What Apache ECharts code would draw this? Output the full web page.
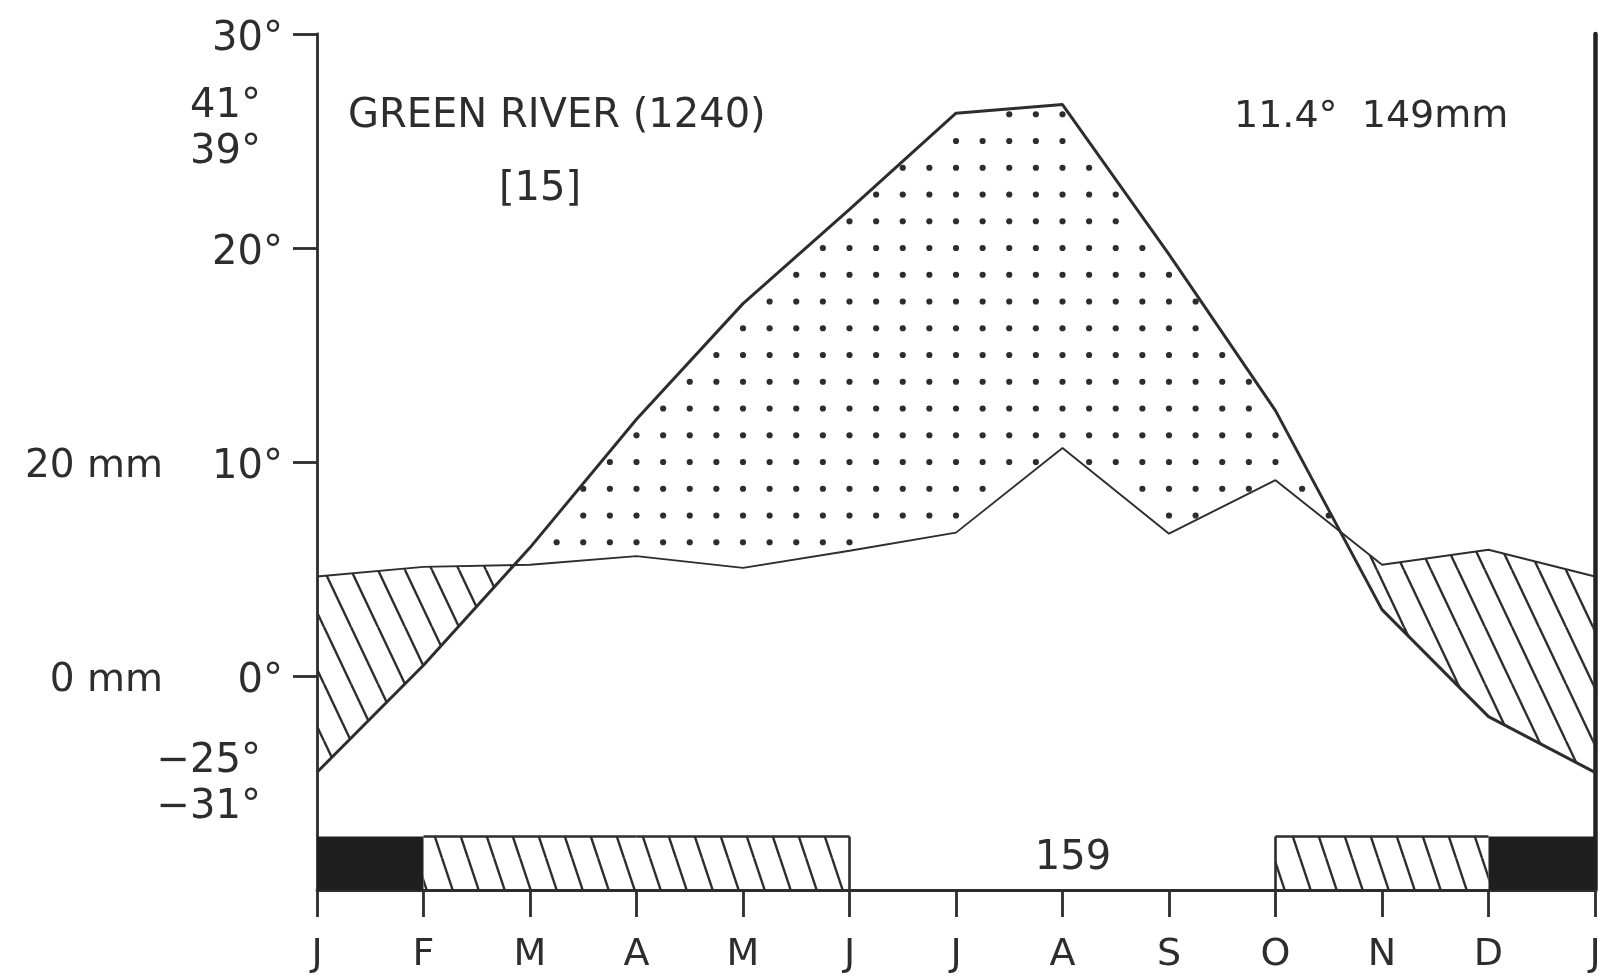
<!DOCTYPE html>
<html>
<head>
<meta charset="utf-8">
<script src="https://cdn.jsdelivr.net/npm/echarts@6/dist/echarts.min.js"></script>
<style>
  html, body { margin: 0; padding: 0; background: #ffffff; }
  #chart { width: 1606px; height: 977px; }
</style>
</head>
<body>
<div id="chart"></div>
<script>
// Climate diagram (Walter–Lieth style): Green River, 1240 m
const monthLabels = ['J', 'F', 'M', 'A', 'M', 'J', 'J', 'A', 'S', 'O', 'N', 'D', 'J'];
// mean monthly air temperature, °C (Jan..Dec)
const temperature = [-4.5, 0.5, 6.0, 12.0, 17.4, 21.8, 26.3, 26.7, 19.7, 12.4, 3.1, -1.9];
// mean monthly precipitation, mm (Jan..Dec)
const precipitation = [9.3, 10.2, 10.4, 11.2, 10.1, 11.7, 13.4, 21.3, 13.3, 18.3, 10.4, 11.8];
// frost class per month: 2 = certain frost, 1 = possible frost, 0 = frost-free
const frostClass = [2, 1, 1, 1, 1, 0, 0, 0, 0, 1, 1, 2];
const tempTicks = [0, 10, 20, 30];
const precipTicks = [0, 20];
const stationName = 'GREEN RIVER (1240)';
const yearsObserved = '[15]';
const annualSummary = '11.4°  149mm';
const frostFreeDays = '159';
const extremeLabels = ['41°', '39°', '−25°', '−31°'];

const INK = '#2d2d2d';
const FONT = '"DejaVu Sans", "Liberation Sans", sans-serif';
const Y_MIN = -10, Y_MAX = 30;
const STRIP_TOP = -7.5;
const MM_PER_DEG = 2;

// close the yearly cycle: January is repeated at the right edge
const tLoop = temperature.concat([temperature[0]]);
const pLoop = precipitation.concat([precipitation[0]]);
const hLoop = pLoop.map(p => p / MM_PER_DEG);  // precipitation on the temperature scale

// split the band between the two curves into arid (T above P) and humid runs
function buildRegions() {
  const pts = [];
  for (let i = 0; i < 12; i++) {
    pts.push({ x: i, t: tLoop[i], h: hLoop[i], cross: false });
    const d0 = tLoop[i] - hLoop[i], d1 = tLoop[i + 1] - hLoop[i + 1];
    if (d0 * d1 < 0) {
      const f = d0 / (d0 - d1);
      const v = tLoop[i] + f * (tLoop[i + 1] - tLoop[i]);
      pts.push({ x: i + f, t: v, h: v, cross: true });
    }
  }
  pts.push({ x: 12, t: tLoop[12], h: hLoop[12], cross: false });
  const regions = [];
  let run = [pts[0]];
  for (let k = 1; k < pts.length; k++) {
    run.push(pts[k]);
    if (pts[k].cross || k === pts.length - 1) {
      const probe = run.find(p => !p.cross);
      const sign = Math.sign(probe.t - probe.h);
      const poly = run.map(p => [p.x, p.t]).concat(run.slice().reverse().map(p => [p.x, p.h]));
      regions.push({ sign, poly });
      run = [pts[k]];
    }
  }
  return regions;
}
const regions = buildRegions();

function interp(arr, x) {
  const i = Math.min(Math.floor(x), 11);
  const f = x - i;
  return arr[i] + f * (arr[i + 1] - arr[i]);
}

function hatchTile(w, h, lw) {
  const c = document.createElement('canvas');
  c.width = w; c.height = h;
  const g = c.getContext('2d');
  g.strokeStyle = INK; g.lineWidth = lw;
  for (const ox of [-w, 0, w]) {
    g.beginPath(); g.moveTo(ox, 0); g.lineTo(ox + w, h); g.stroke();
  }
  return c;
}
const humidHatch = { image: hatchTile(27, 57, 2.4), repeat: 'repeat' };
const frostHatch = { image: hatchTile(26, 78, 2.4), repeat: 'repeat' };

function renderBand(params, api) {
  const children = [];
  regions.forEach(r => {
    if (r.sign < 0) {
      children.push({
        type: 'polygon',
        shape: { points: r.poly.map(p => api.coord(p)) },
        style: { fill: humidHatch, stroke: null }
      });
    }
  });
  // arid period: dot screen on a quarter-month × 1.25° lattice
  for (let k = 0; k <= 48; k++) {
    const x = k / 4;
    const t = interp(tLoop, x), h = interp(hLoop, x);
    for (let j = -8; j <= 24; j++) {
      const v = j * 1.25;
      if (v < t - 0.2 && v > h + 0.2) {
        const c = api.coord([x, v]);
        children.push({ type: 'circle', shape: { cx: c[0], cy: c[1], r: 3.1 }, style: { fill: INK } });
      }
    }
  }
  return { type: 'group', children };
}

function renderFrost(params, api) {
  const i = api.value(0), cls = api.value(1);
  const tl = api.coord([i, STRIP_TOP]);
  const br = api.coord([i + 1, Y_MIN]);
  const rect = { x: tl[0], y: tl[1], width: br[0] - tl[0], height: br[1] - tl[1] };
  if (cls === 2) {
    return { type: 'rect', shape: rect, style: { fill: '#1f1f1f', stroke: null } };
  }
  const children = [
    { type: 'rect', shape: rect, style: { fill: frostHatch, stroke: null } },
    { type: 'line', shape: { x1: tl[0], y1: tl[1], x2: br[0], y2: tl[1] }, style: { stroke: INK, lineWidth: 2.6 } }
  ];
  if (i === 0 || frostClass[i - 1] === 0) {
    children.push({ type: 'line', shape: { x1: tl[0], y1: tl[1], x2: tl[0], y2: br[1] }, style: { stroke: INK, lineWidth: 2.6 } });
  }
  if (i === 11 || frostClass[i + 1] === 0) {
    children.push({ type: 'line', shape: { x1: br[0], y1: tl[1], x2: br[0], y2: br[1] }, style: { stroke: INK, lineWidth: 2.6 } });
  }
  return { type: 'group', children };
}

const chart = echarts.init(document.getElementById('chart'), null, { renderer: 'canvas' });

const textStyle = (text, x, y, align, size) => ({
  type: 'text', x, y,
  style: { text, fill: INK, font: `${size}px ${FONT}`, textAlign: align, textVerticalAlign: 'middle' }
});

chart.setOption({
  animation: false,
  backgroundColor: '#ffffff',
  grid: { left: 317, right: 11, top: 34, bottom: 87, containLabel: false },
  xAxis: {
    type: 'value', min: 0, max: 12, interval: 1,
    axisLine: { show: true, onZero: false, lineStyle: { color: INK, width: 2.8 } },
    axisTick: { show: true, length: 27, lineStyle: { color: INK, width: 2.8 } },
    axisLabel: { margin: 46, color: INK, fontSize: 38, fontFamily: FONT, formatter: v => monthLabels[v] },
    splitLine: { show: false }
  },
  yAxis: [
    {
      type: 'value', min: Y_MIN, max: Y_MAX, position: 'left',
      axisLine: { show: true, onZero: false, lineStyle: { color: INK, width: 2.8 } },
      axisTick: { show: true, length: 24, customValues: tempTicks, lineStyle: { color: INK, width: 2.8 } },
      axisLabel: {
        customValues: tempTicks, margin: 34, color: INK, fontSize: 40, fontFamily: FONT,
        verticalAlign: 'top', lineHeight: 12, formatter: v => v + '°'
      },
      splitLine: { show: false }
    },
    {
      type: 'value', min: Y_MIN * MM_PER_DEG, max: Y_MAX * MM_PER_DEG, position: 'left',
      axisLine: { show: false },
      axisTick: { show: false },
      axisLabel: {
        customValues: precipTicks, margin: 154, color: INK, fontSize: 39, fontFamily: FONT,
        verticalAlign: 'top', lineHeight: 10, formatter: v => v + ' mm'
      },
      splitLine: { show: false }
    },
    {
      type: 'value', min: Y_MIN, max: Y_MAX, position: 'right',
      axisLine: { show: true, onZero: false, lineStyle: { color: '#222', width: 4.5 } },
      axisTick: { show: false }, axisLabel: { show: false }, splitLine: { show: false }
    }
  ],
  series: [
    {
      type: 'custom', name: 'band', coordinateSystem: 'cartesian2d', xAxisIndex: 0, yAxisIndex: 0,
      data: [[0, 0]], renderItem: renderBand, clip: false, silent: true, z: 1
    },
    {
      type: 'custom', name: 'frost', coordinateSystem: 'cartesian2d', xAxisIndex: 0, yAxisIndex: 0,
      data: frostClass.map((c, i) => [i, c]).filter(d => d[1] > 0),
      renderItem: renderFrost, clip: false, silent: true, z: 2
    },
    {
      type: 'line', name: 'precipitation', yAxisIndex: 1,
      data: pLoop.map((v, i) => [i, v]),
      symbol: 'none', lineStyle: { color: INK, width: 1.9 }, z: 3
    },
    {
      type: 'line', name: 'temperature', yAxisIndex: 0,
      data: tLoop.map((v, i) => [i, v]),
      symbol: 'none', lineStyle: { color: INK, width: 3 }, z: 4
    }
  ],
  graphic: [
    textStyle(stationName, 348, 117, 'left', 40),
    textStyle(yearsObserved, 540, 190, 'center', 40),
    textStyle(annualSummary, 1234, 117, 'left', 38),
    textStyle(frostFreeDays, 1073, 859, 'center', 40),
    textStyle(extremeLabels[0], 261, 107, 'right', 40),
    textStyle(extremeLabels[1], 261, 153, 'right', 40),
    textStyle(extremeLabels[2], 261, 762, 'right', 40),
    textStyle(extremeLabels[3], 261, 808, 'right', 40)
  ]
});
</script>
</body>
</html>
